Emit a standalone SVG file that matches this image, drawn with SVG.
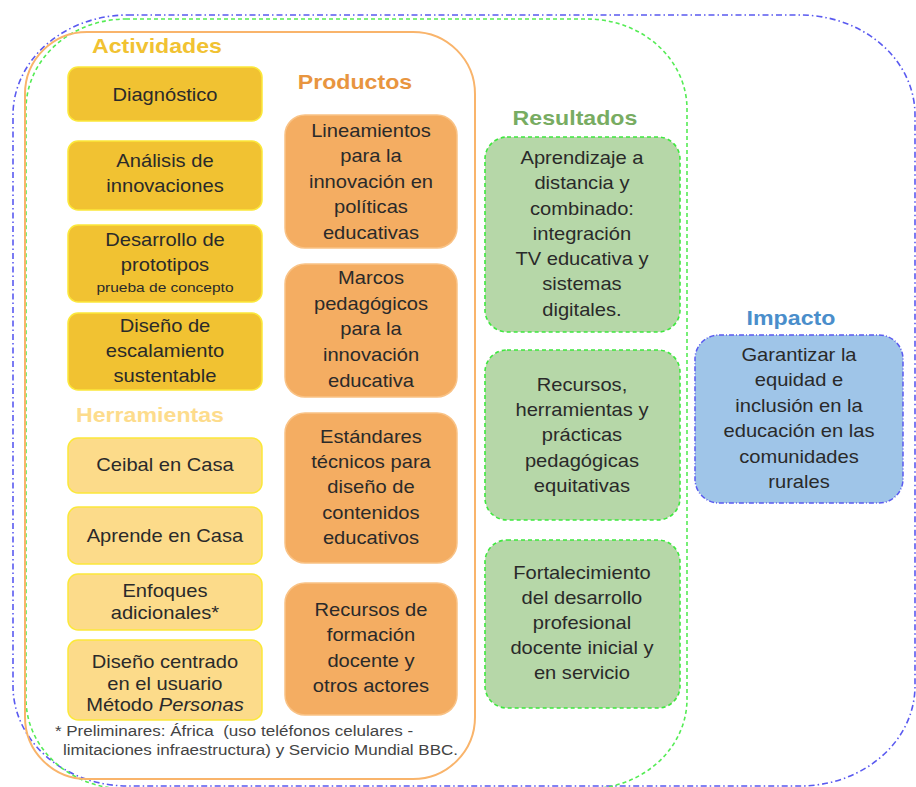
<svg xmlns="http://www.w3.org/2000/svg" width="916" height="787" viewBox="0 0 916 787">
<style>
.t{font-family:"Liberation Sans",Arial,sans-serif;font-size:17.5px;fill:#2a2a2a;text-anchor:middle;transform:scaleX(1.15);transform-box:fill-box;transform-origin:center}
.h{font-family:"Liberation Sans",Arial,sans-serif;font-size:20.5px;font-weight:bold;text-anchor:middle;transform:scaleX(1.13);transform-box:fill-box;transform-origin:center}
.act{fill:#f1c232;stroke:#fbe83a;stroke-width:1.5}
.her{fill:#fcdb8a;stroke:#fbe83a;stroke-width:1.5}
.pro{fill:#f4ad62;stroke:#f9c285;stroke-width:1.5}
.res{fill:#b6d7a8;stroke:#3ee83e;stroke-width:1.6;stroke-dasharray:4 3}
.imp{fill:#9fc5e8;stroke:#5a5af0;stroke-width:1.5;stroke-dasharray:5 2 1 2}
</style>
<g id="frames" fill="none">
<rect x="13" y="15" width="902" height="771" rx="115" ry="100" stroke="#5a5af0" stroke-width="1.6" stroke-dasharray="6 3 1.5 3"/>
<rect x="26" y="19" width="661" height="770" rx="100" ry="90" stroke="#55ec55" stroke-width="1.6" stroke-dasharray="4 3"/>
<rect x="25" y="32" width="450" height="747" rx="62" ry="62" stroke="#f9b46b" stroke-width="2"/>
</g>
<g id="titles">
<text class="h" x="157" y="53" fill="#f1c232">Actividades</text>
<text class="h" x="355" y="89" fill="#e8953f">Productos</text>
<text class="h" x="150" y="422" fill="#fddc8c">Herramientas</text>
<text class="h" x="575" y="125" fill="#78ac62">Resultados</text>
<text class="h" x="791" y="325" fill="#4a8ecb">Impacto</text>
</g>
<g id="act1"><rect class="act" x="68" y="67" width="194" height="54" rx="10"/><text class="t" x="165" y="101">Diagnóstico</text></g>
<g id="act2"><rect class="act" x="68" y="141" width="194" height="69" rx="10"/><text class="t" x="165" y="167"><tspan x="165">Análisis de</tspan><tspan x="165" dy="25">innovaciones</tspan></text></g>
<g id="act3"><rect class="act" x="68" y="225" width="194" height="77" rx="10"/><text class="t" x="165" y="246"><tspan x="165">Desarrollo de</tspan><tspan x="165" dy="25">prototipos</tspan><tspan x="165" dy="21" font-size="13.5">prueba de concepto</tspan></text></g>
<g id="act4"><rect class="act" x="68" y="313" width="194" height="77" rx="10"/><text class="t" x="165" y="332"><tspan x="165">Diseño de</tspan><tspan x="165" dy="25">escalamiento</tspan><tspan x="165" dy="25">sustentable</tspan></text></g>
<g id="her1"><rect class="her" x="68" y="438" width="194" height="55" rx="10"/><text class="t" x="165" y="471">Ceibal en Casa</text></g>
<g id="her2"><rect class="her" x="68" y="507" width="194" height="57" rx="10"/><text class="t" x="165" y="542">Aprende en Casa</text></g>
<g id="her3"><rect class="her" x="68" y="574" width="194" height="56" rx="10"/><text class="t" x="165" y="597"><tspan x="165">Enfoques</tspan><tspan x="165" dy="22">adicionales*</tspan></text></g>
<g id="her4"><rect class="her" x="68" y="640" width="194" height="80" rx="10"/><text class="t" x="165" y="668"><tspan x="165">Diseño centrado</tspan><tspan x="165" dy="22">en el usuario</tspan><tspan x="165" dy="21">Método <tspan font-style="italic">Personas</tspan></tspan></text></g>
<g id="pro1"><rect class="pro" x="285" y="115" width="172" height="133" rx="20"/><text class="t" x="371" y="137"><tspan x="371">Lineamientos</tspan><tspan x="371" dy="25.5">para la</tspan><tspan x="371" dy="25.5">innovación en</tspan><tspan x="371" dy="25.5">políticas</tspan><tspan x="371" dy="25.5">educativas</tspan></text></g>
<g id="pro2"><rect class="pro" x="285" y="264" width="172" height="133" rx="20"/><text class="t" x="371" y="284"><tspan x="371">Marcos</tspan><tspan x="371" dy="25.75">pedagógicos</tspan><tspan x="371" dy="25.75">para la</tspan><tspan x="371" dy="25.75">innovación</tspan><tspan x="371" dy="25.75">educativa</tspan></text></g>
<g id="pro3"><rect class="pro" x="285" y="413" width="172" height="150" rx="20"/><text class="t" x="371" y="443"><tspan x="371">Estándares</tspan><tspan x="371" dy="25.25">técnicos para</tspan><tspan x="371" dy="25.25">diseño de</tspan><tspan x="371" dy="25.25">contenidos</tspan><tspan x="371" dy="25.25">educativos</tspan></text></g>
<g id="pro4"><rect class="pro" x="285" y="583" width="172" height="132" rx="20"/><text class="t" x="371" y="616"><tspan x="371">Recursos de</tspan><tspan x="371" dy="25.3">formación</tspan><tspan x="371" dy="25.3">docente y</tspan><tspan x="371" dy="25.3">otros actores</tspan></text></g>
<g id="res1"><rect class="res" x="485" y="137" width="195" height="195" rx="22"/><text class="t" x="582" y="164"><tspan x="582">Aprendizaje a</tspan><tspan x="582" dy="25.3">distancia y</tspan><tspan x="582" dy="25.3">combinado:</tspan><tspan x="582" dy="25.3">integración</tspan><tspan x="582" dy="25.3">TV educativa y</tspan><tspan x="582" dy="25.3">sistemas</tspan><tspan x="582" dy="25.3">digitales.</tspan></text></g>
<g id="res2"><rect class="res" x="485" y="350" width="195" height="170" rx="22"/><text class="t" x="582" y="391"><tspan x="582">Recursos,</tspan><tspan x="582" dy="25.25">herramientas y</tspan><tspan x="582" dy="25.25">prácticas</tspan><tspan x="582" dy="25.25">pedagógicas</tspan><tspan x="582" dy="25.25">equitativas</tspan></text></g>
<g id="res3"><rect class="res" x="485" y="540" width="195" height="168" rx="22"/><text class="t" x="582" y="579"><tspan x="582">Fortalecimiento</tspan><tspan x="582" dy="25">del desarrollo</tspan><tspan x="582" dy="25">profesional</tspan><tspan x="582" dy="25">docente inicial y</tspan><tspan x="582" dy="25">en servicio</tspan></text></g>
<g id="imp1"><rect class="imp" x="695" y="335" width="208" height="168" rx="24"/><text class="t" x="799" y="361"><tspan x="799">Garantizar la</tspan><tspan x="799" dy="25.4">equidad e</tspan><tspan x="799" dy="25.4">inclusión en la</tspan><tspan x="799" dy="25.4">educación en las</tspan><tspan x="799" dy="25.4">comunidades</tspan><tspan x="799" dy="25.4">rurales</tspan></text></g>
<g id="footnote"><text class="t" x="254" y="736" style="font-size:14.8px;fill:#444;white-space:pre"><tspan x="237">* Preliminares: África  (uso teléfonos celulares -</tspan><tspan x="260" dy="19">limitaciones infraestructura) y Servicio Mundial BBC.</tspan></text></g>
<g id="connectors"></g>
</svg>
